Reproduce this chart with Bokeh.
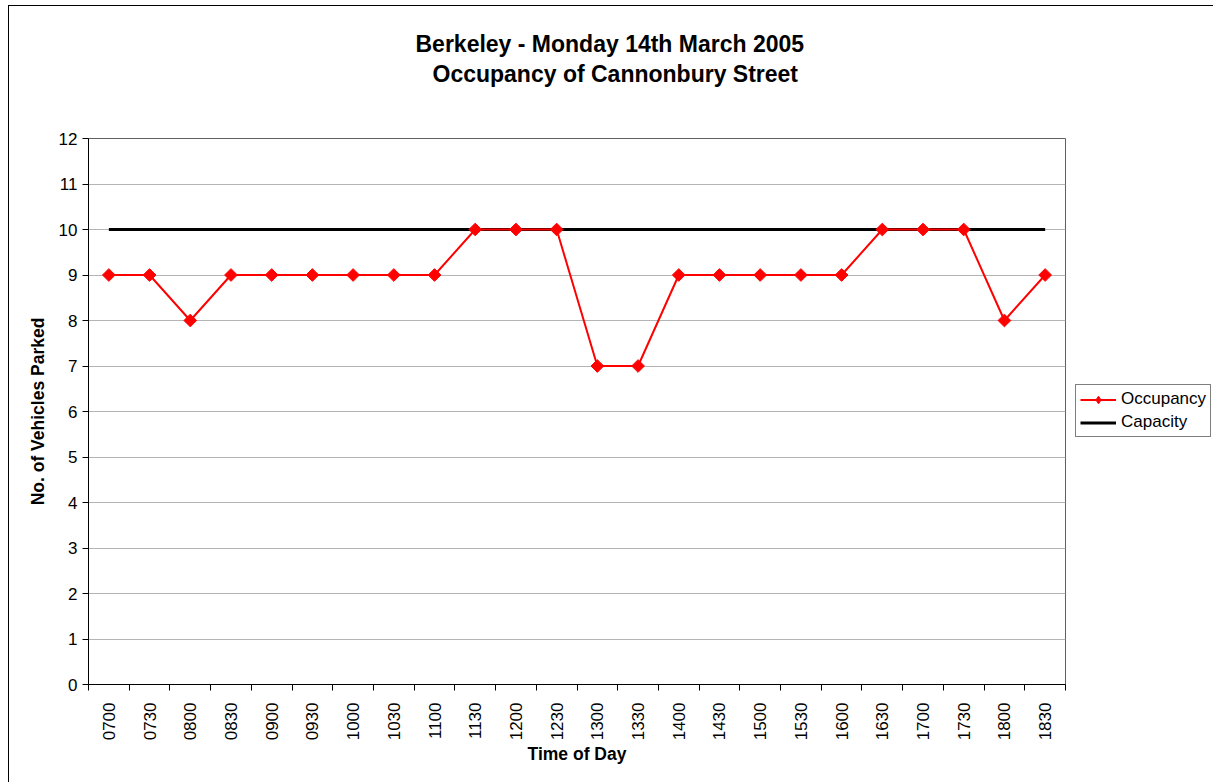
import math
from bokeh.plotting import figure
from bokeh.layouts import row
from bokeh.models import Legend, LegendItem, FixedTicker, Range1d, Title, ColumnDataSource
from bokeh.embed import file_html
from bokeh.resources import INLINE

# ---- data ----
times = ["0700", "0730", "0800", "0830", "0900", "0930", "1000", "1030", "1100",
         "1130", "1200", "1230", "1300", "1330", "1400", "1430", "1500", "1530",
         "1600", "1630", "1700", "1730", "1800", "1830"]
occupancy = [9, 9, 8, 9, 9, 9, 9, 9, 9, 10, 10, 10, 7, 7, 9, 9, 9, 9, 9, 10, 10, 10, 8, 9]
capacity = [10] * len(times)
y_ticks = list(range(0, 13))
title_line1 = "Berkeley - Monday 14th March 2005"
title_line2 = "Occupancy of Cannonbury Street"

FONT = "Liberation Sans"
RED = "#ff0000"
n = len(times)
xs = [i + 0.5 for i in range(n)]
src = ColumnDataSource(dict(x=xs, occ=occupancy, cap=capacity))

# layout (pixels)
W, H = 1058, 776
ML, MT, MR, MB = 79, 132, 2, 98
LW = 146  # legend column width

p = figure(width=W, height=H, output_backend="svg", toolbar_location=None,
           title=None, x_range=Range1d(0, n), y_range=Range1d(0, 12),
           min_border_left=ML, min_border_right=MR, min_border_top=MT,
           min_border_bottom=MB)
p.background_fill_color = "white"
p.border_fill_color = "white"
p.outline_line_color = "#606060"
p.outline_line_width = 1

has_standoff = "standoff" in Title.properties()


def make_title(text, size, offset, standoff, bold=True):
    kw = dict(text=text, align="left", offset=offset, text_font=FONT,
              text_font_size=size, text_font_style="bold" if bold else "normal",
              text_color="black")
    if has_standoff:
        kw["standoff"] = standoff
    return Title(**kw)


# first added sits closest to the plot area
p.add_layout(make_title("\u00a0", "35px", 0, 10, bold=False), "above")
p.add_layout(make_title(title_line2, "23px", 344, 2), "above")
p.add_layout(make_title(title_line1, "23px", 327, 2), "above")

p.line("x", "cap", source=src, line_color="black", line_width=3)
p.line("x", "occ", source=src, line_color=RED, line_width=2)
p.scatter("x", "occ", source=src, marker="square", size=9, angle=math.pi / 4,
          fill_color=RED, line_color=RED)

# x axis
xa = p.xaxis[0]
xa.ticker = FixedTicker(ticks=xs, minor_ticks=list(range(n + 1)))
xa.major_label_overrides = {x: t for x, t in zip(xs, times)}
xa.major_label_orientation = math.pi / 2
xa.major_tick_out = 0
xa.major_tick_in = 0
xa.minor_tick_out = 6
xa.minor_tick_in = 0
xa.minor_tick_line_color = "black"
xa.axis_line_color = "black"
xa.major_label_standoff = 12
xa.major_label_text_font = FONT
xa.major_label_text_font_size = "17px"
xa.major_label_text_color = "black"
xa.axis_label = "Time of Day"
xa.axis_label_text_font = FONT
xa.axis_label_text_font_size = "17.5px"
xa.axis_label_text_font_style = "bold"
xa.axis_label_text_color = "black"
xa.axis_label_standoff = 1

# y axis
ya = p.yaxis[0]
ya.ticker = FixedTicker(ticks=y_ticks, minor_ticks=[])
ya.major_tick_out = 6
ya.major_tick_in = 0
ya.major_tick_line_color = "black"
ya.axis_line_color = "black"
ya.major_label_standoff = 5
ya.major_label_text_font = FONT
ya.major_label_text_font_size = "17px"
ya.major_label_text_color = "black"
ya.axis_label = "No. of Vehicles Parked"
ya.axis_label_text_font = FONT
ya.axis_label_text_font_size = "17.5px"
ya.axis_label_text_font_style = "bold"
ya.axis_label_text_color = "black"
ya.axis_label_standoff = 8

p.xgrid.grid_line_color = None
p.ygrid.grid_line_color = "#b4b4b4"
p.ygrid.grid_line_width = 1

# ---- legend column (same series, drawn outside its visible range) ----
lf = figure(width=LW, height=H, output_backend="svg", toolbar_location=None,
            x_axis_location=None, y_axis_location=None,
            x_range=Range1d(-100, -99), y_range=Range1d(-100, -99),
            min_border=0, min_border_left=0, min_border_right=0,
            min_border_top=0, min_border_bottom=0)
lf.grid.visible = False
lf.outline_line_color = None
lf.background_fill_color = "white"
lf.border_fill_color = "white"

k_occ_line = lf.line("x", "occ", source=src, line_color=RED, line_width=2)
k_occ_pts = lf.scatter("x", "occ", source=src, marker="diamond", size=14,
                       fill_color=RED, line_color=RED)
k_cap = lf.line("x", "cap", source=src, line_color="black", line_width=3)

legend = Legend(items=[LegendItem(label="Occupancy", renderers=[k_occ_line, k_occ_pts]),
                       LegendItem(label="Capacity", renderers=[k_cap])],
                location=(8, 247), margin=0, padding=4, spacing=3,
                glyph_width=36, glyph_height=19, label_height=19, label_standoff=5,
                label_text_font=FONT, label_text_font_size="17px",
                label_text_color="black", border_line_color="black",
                border_line_width=1, background_fill_color="white")
lf.add_layout(legend, "center")

layout = row(p, lf, spacing=0)
layout.styles = {"margin-left": "8px", "margin-top": "5px",
                 "border-left": "1px solid black", "border-top": "1px solid black"}

open("out.html", "w").write(file_html(layout, INLINE))
